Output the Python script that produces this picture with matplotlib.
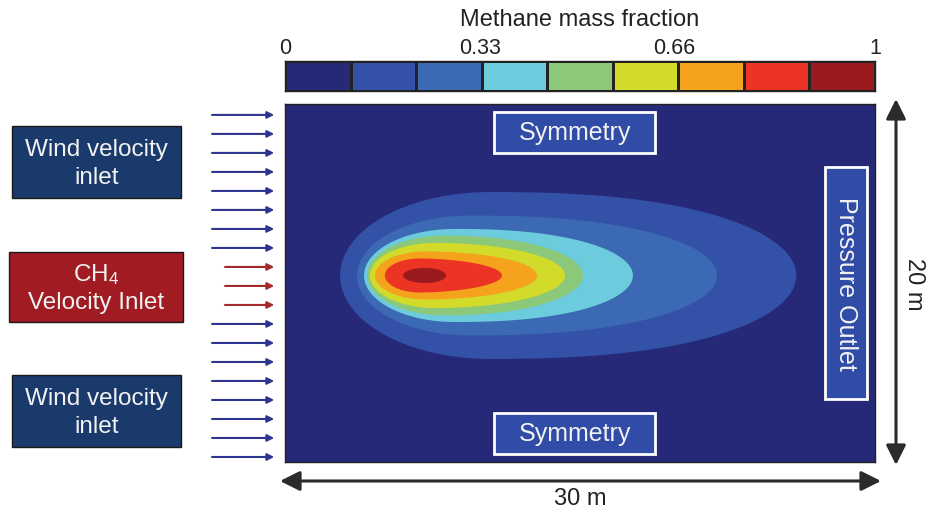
import numpy as np
import matplotlib
matplotlib.use("Agg")
import matplotlib.pyplot as plt
from matplotlib.colors import ListedColormap, BoundaryNorm
from matplotlib.patches import Rectangle, Polygon

plt.rcParams['font.family'] = ['Liberation Sans', 'DejaVu Sans']
plt.rcParams['mathtext.default'] = 'regular'

# Colour scale (9 bands of methane mass fraction)
band_colors = ['#262978', '#3351A6', '#3C69B3', '#6CCBDC', '#8BC87A',
               '#D2DB2A', '#F5A31C', '#EC3424', '#9A1B1F']
bounds = np.linspace(0, 1, 10)
tick_vals = [0, 0.33, 0.66, 1]
tick_labels = ['0', '0.33', '0.66', '1']

# Domain size (m)
domain_w = 30
domain_h = 20

# Plume contours (m): left edge, widest x, right tip, half height
plume_left = [2.80, 3.66, 4.02, 4.17, 4.32, 4.58, 5.08, 6.00]
plume_peak = [10.4, 9.41, 8.64, 8.14, 7.63, 7.12, 6.86, 7.12]
plume_right = [26.0, 21.97, 17.69, 15.15, 14.24, 12.81, 11.03, 8.19]
plume_half = [4.66, 3.35, 2.60, 2.23, 1.82, 1.34, 0.95, 0.42]
# bluntness of the downstream tip (2 = ellipse)
plume_tip = [2.4, 2.3, 2.3, 2.1, 2.0, 2.0, 1.8, 2.0]
plume_yc = 10.42

# Inlet arrows: 19 arrows, the middle three are the CH4 inlet
n_arrows = 19
ch4_idx = [8, 9, 10]


def plume_shape(left, peak, right, half, yc, p):
    a1 = np.linspace(np.pi, np.pi / 2, 60)
    x1 = peak + (peak - left) * np.cos(a1)
    y1 = half * np.sin(a1)
    a2 = np.linspace(np.pi / 2, 0, 80)
    x2 = peak + (right - peak) * np.cos(a2) ** (2 / p)
    y2 = half * np.sin(a2)
    xu = np.concatenate([x1, x2])
    yu = np.concatenate([y1, y2])
    xs = np.concatenate([xu, xu[::-1]])
    ys = np.concatenate([yc + yu, yc - yu[::-1]])
    return np.column_stack([xs, ys])


W, H = 926, 510
fig = plt.figure(figsize=(W / 100, H / 100), dpi=100)

# domain axes (pixel box 285..875 x 105..463)
ax = fig.add_axes([285 / W, (H - 463) / H, 590 / W, 358 / H])
ax.set_xlim(0, domain_w)
ax.set_ylim(0, domain_h)
ax.set_facecolor(band_colors[0])
ax.set_xticks([])
ax.set_yticks([])
for s in ax.spines.values():
    s.set_color('#222222')
    s.set_linewidth(1.0)

for i in range(len(plume_left)):
    pts = plume_shape(plume_left[i], plume_peak[i], plume_right[i], plume_half[i],
                      plume_yc, plume_tip[i])
    ax.add_patch(Polygon(pts, closed=True, facecolor=band_colors[i + 1], edgecolor='none'))

# inlet arrows
arrow_y = np.linspace(19.39, 0.28, n_arrows)
for k, yv in enumerate(arrow_y):
    if k in ch4_idx:
        col, x0 = '#A42A2C', -3.05
    else:
        col, x0 = '#2E3590', -3.71
    ax.annotate('', xy=(-0.55, yv), xytext=(x0, yv), annotation_clip=False,
                arrowprops=dict(arrowstyle='-|>', color=col, lw=1.5,
                                mutation_scale=10, shrinkA=0, shrinkB=0))

# colorbar drawn as a single-row mesh
cax = fig.add_axes([285 / W, (H - 92) / H, 590 / W, 30 / H])
mids = (bounds[:-1] + bounds[1:]) / 2
cax.pcolormesh(bounds, [0, 1], mids[np.newaxis, :],
               cmap=ListedColormap(band_colors),
               norm=BoundaryNorm(bounds, len(band_colors)),
               edgecolors='#222222', linewidth=0.8)
cax.set_xlim(0, 1)
cax.set_ylim(0, 1)
cax.set_yticks([])
cax.set_xticks(tick_vals)
cax.set_xticklabels(tick_labels)
cax.xaxis.set_ticks_position('top')
cax.tick_params(length=0, labelsize=15.5, pad=2, colors='#222222')
for s in cax.spines.values():
    s.set_color('#222222')
    s.set_linewidth(1.0)

# overlay in pixel coordinates
ov = fig.add_axes([0, 0, 1, 1])
ov.set_xlim(0, W)
ov.set_ylim(H, 0)
ov.axis('off')
ov.patch.set_alpha(0)

ov.text(580, 20, 'Methane mass fraction', ha='center', va='center',
        fontsize=17, color='#222222')

txt = dict(ha='center', va='center', fontsize=17.5, color='#F2F2F2', linespacing=1.3)
ov.add_patch(Rectangle((12, 127), 169, 72, facecolor='#1B3A6C', edgecolor='#1A1A1A', lw=1))
ov.text(96.5, 164, 'Wind velocity\ninlet', **txt)
ov.add_patch(Rectangle((9, 253), 174, 70, facecolor='#A01C22', edgecolor='#1A1A1A', lw=1))
ov.text(96, 288, 'CH$_4$\nVelocity Inlet', **txt)
ov.add_patch(Rectangle((12, 376), 169, 72, facecolor='#1B3A6C', edgecolor='#1A1A1A', lw=1))
ov.text(96.5, 413, 'Wind velocity\ninlet', **txt)

box_txt = dict(txt, fontsize=18)
box_face = '#304CA6'
ov.add_patch(Rectangle((494, 113), 161, 41, facecolor=box_face, edgecolor='white', lw=2))
ov.text(574.5, 133, 'Symmetry', **box_txt)
ov.add_patch(Rectangle((494, 414), 161, 41, facecolor=box_face, edgecolor='white', lw=2))
ov.text(574.5, 434, 'Symmetry', **box_txt)
ov.add_patch(Rectangle((825, 168), 42, 232, facecolor=box_face, edgecolor='white', lw=2))
ov.text(846, 284, 'Pressure Outlet', rotation=-90, **box_txt)

# dimension arrows
dim = dict(arrowstyle='<|-|>', color='#2B2B2B', lw=2.2, mutation_scale=30,
           shrinkA=0, shrinkB=0)
ov.annotate('', xy=(881, 482), xytext=(280, 482), arrowprops=dim)
ov.annotate('', xy=(896, 466), xytext=(896, 100), arrowprops=dim)
ov.text(580, 499, '30 m', ha='center', va='center', fontsize=17, color='#222222')
ov.text(914, 284, '20 m', ha='center', va='center', fontsize=17, color='#222222',
        rotation=-90)

fig.savefig('out.png', dpi=100)
